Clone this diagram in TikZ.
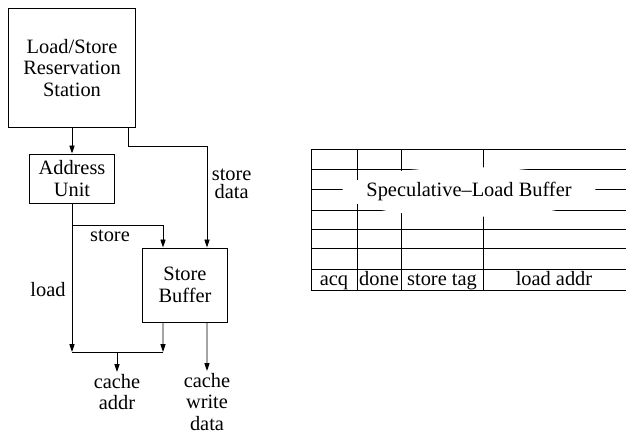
\documentclass[tikz,border=0pt]{standalone}
\usepackage{fontspec}
\setmainfont{Liberation Serif}
\usepackage{tikz}
\usetikzlibrary{calc,arrows.meta,positioning}

\begin{document}
\begin{tikzpicture}[x=0.025cm,y=-0.025cm,
      every node/.style={font=\fontsize{14.5}{15.6}\selectfont},
      box/.style={draw,line width=0.7pt,inner sep=0pt,align=center},
      lbl/.style={inner sep=1pt,align=center},
      line width=0.7pt,
      >={Triangle[length=0.2cm,width=0.13cm]}]
      \useasboundingbox (0,0) rectangle (626,437);
      % units
      \node[box,minimum width=3.15cm,minimum height=2.95cm] (rs) at (72,68) {Load/Store\\Reservation\\Station};
      \node[box,minimum width=2.1cm,minimum height=1.225cm] (au) at (72,178.5) {Address\\Unit};
      \node[box,minimum width=2.1cm,minimum height=1.85cm] (sb) at (185,285) {Store\\Buffer};
      % bends
      \coordinate (sdbend) at (128,146);
      \coordinate (br) at (72,225);
      \coordinate (ldend) at (72,352);
      \coordinate (stend) at (163,352);
      \coordinate (merge) at (117,352);
      % labels
      \node[lbl,anchor=west,font=\fontsize{14.5}{13}\selectfont] (sdlbl) at (210,184) {store\\data};
      \node[lbl] (stlbl) at (110,236) {store};
      \node[lbl] (ldlbl) at (48,290) {load};
      \node[lbl,anchor=north] (caddr) at (117,372) {cache\\addr};
      \node[lbl,anchor=north] (cwdata) at (207,371) {cache\\write\\data};
      % connectors
      \draw[->] (rs) -- (au);
      \draw[->] (rs.south -| sdbend) -- (sdbend) -| ([xshift=0.55cm]sb.north);
      \draw[->] (au) -- (ldend);
      \draw[->] (br) -| ([xshift=-0.55cm]sb.north);
      \draw[->] ([xshift=-0.55cm]sb.south) -- (stend);
      \draw (ldend) -- (stend);
      \draw[->] (merge) -- (caddr);
      \draw[->] ([xshift=0.55cm]sb.south) -- (cwdata);
      % speculative-load buffer
      \foreach \y in {149,169,189,210,229,248,269,290}
        \draw (311,\y) -- (626,\y);
      \foreach \x in {311,357,401,483}
        \draw (\x,149) -- (\x,290);
      \fill[white] (469,192) ellipse [x radius=3.175cm,y radius=0.62cm];
      \node[inner sep=0pt] (slb) at (469,191) {Speculative--Load Buffer};
      \node[lbl,anchor=base] (acq) at (334,285) {acq};
      \node[lbl,anchor=base] (done) at (379,285) {done};
      \node[lbl,anchor=base] (tag) at (442,285) {store tag};
      \node[lbl,anchor=base] (addr) at (554,285) {load addr};
    \end{tikzpicture}
\end{document}
